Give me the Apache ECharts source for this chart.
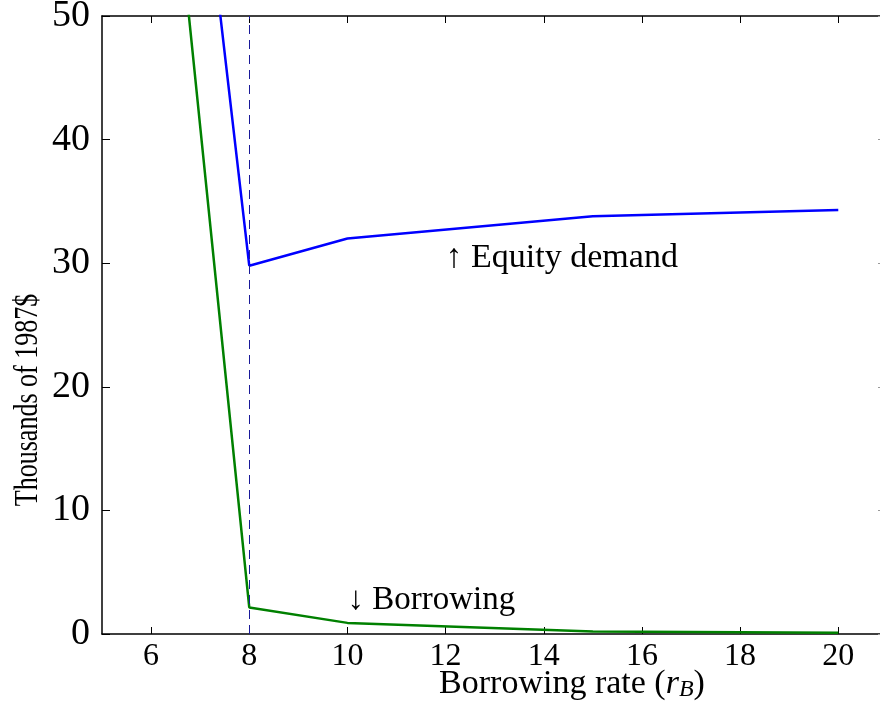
<!DOCTYPE html>
<html>
<head>
<meta charset="utf-8">
<script src="https://cdn.jsdelivr.net/npm/echarts@6/dist/echarts.min.js"></script>
<style>
  html, body { margin: 0; padding: 0; background: #fff; }
  #main { width: 880px; height: 704px; }
</style>
</head>
<body>
<div id="main"></div>
<script>
// borrowing rate (x) for both curves
var rates = [6, 8, 10, 15, 20];
// thousands of 1987$
var equityDemand = [98.5, 29.8, 32.0, 33.8, 34.3];
var borrowing = [80.0, 2.15, 0.9, 0.2, 0.1];
var xTicks = [6, 8, 10, 12, 14, 16, 18, 20];
var yTicks = [0, 10, 20, 30, 40, 50];
var kinkRate = 8;

var serif = '"Liberation Serif", "DejaVu Serif", serif';

function pairs(xs, ys) {
    return xs.map(function (x, i) { return [x, ys[i]]; });
}

var myChart = echarts.init(document.getElementById('main'));
myChart.setOption({
    animation: false,
    textStyle: { fontFamily: serif, color: '#000' },
    grid: { left: 102, right: 0, top: 16, bottom: 70, containLabel: false, outerBoundsMode: 'none' },
    xAxis: [
        {
            type: 'value', min: 5, max: 20.85,
            axisLine: { onZero: false, lineStyle: { color: '#000', width: 1.5 } },
            axisTick: { inside: true, length: 7, lineStyle: { color: '#000' }, customValues: xTicks },
            axisLabel: { fontSize: 32, fontFamily: serif, color: '#000', margin: 7, customValues: xTicks },
            splitLine: { show: false }
        },
        {
            type: 'value', min: 5, max: 20.85, position: 'top',
            axisLine: { onZero: false, lineStyle: { color: '#000', width: 1.5 } },
            axisTick: { inside: true, length: 7, lineStyle: { color: '#000' }, customValues: xTicks },
            axisLabel: { show: false },
            splitLine: { show: false }
        }
    ],
    yAxis: [
        {
            type: 'value', min: 0, max: 50, interval: 10,
            axisLine: { show: true, onZero: false, lineStyle: { color: '#000', width: 1.5 } },
            axisTick: { show: true, inside: true, length: 8, lineStyle: { color: '#000' } },
            axisLabel: { fontSize: 38, fontFamily: serif, color: '#000', margin: 12,
                         customValues: yTicks },
            splitLine: { show: false }
        },
        {
            type: 'value', min: 0, max: 50, interval: 10, position: 'right',
            axisLine: { show: false },
            axisTick: { show: true, inside: true, length: 2, lineStyle: { color: '#999' } },
            axisLabel: { show: false },
            splitLine: { show: false }
        }
    ],
    graphic: [
        {
            type: 'text', x: 28, y: 400, rotation: Math.PI / 2, scaleY: 1.3,
            style: { text: 'Thousands of 1987$', font: '26px ' + serif, fill: '#000',
                     textAlign: 'center', textVerticalAlign: 'middle' }
        },
        {
            type: 'text', x: 572, y: 684,
            style: {
                text: 'Borrowing rate ({i|r}{s|B})',
                font: '34px ' + serif, fill: '#000',
                textAlign: 'center', textVerticalAlign: 'middle',
                rich: {
                    i: { fontSize: 34, fontFamily: serif, fontStyle: 'italic' },
                    s: { fontSize: 24, fontFamily: serif, fontStyle: 'italic', padding: [12, 0, 0, 0] }
                }
            }
        }
    ],
    series: [
        {
            name: 'Equity demand', type: 'line',
            data: pairs(rates, equityDemand),
            symbol: 'none', clip: true,
            lineStyle: { color: '#0000ff', width: 2.5 },
            markLine: {
                silent: true, symbol: 'none',
                label: { show: false },
                lineStyle: { color: '#1a1a99', width: 1, type: [9, 6] },
                data: [{ xAxis: kinkRate }]
            },
            markPoint: {
                symbol: 'circle', symbolSize: 0,
                label: {
                    show: true, position: 'right', distance: 0,
                    formatter: '\u2191 Equity demand',
                    fontSize: 34, fontFamily: serif, color: '#000'
                },
                data: [{ coord: [12, 30.4] }]
            }
        },
        {
            name: 'Borrowing', type: 'line',
            data: pairs(rates, borrowing),
            symbol: 'none', clip: true,
            lineStyle: { color: '#008000', width: 2.5 },
            markPoint: {
                symbol: 'circle', symbolSize: 0,
                label: {
                    show: true, position: 'right', distance: 0,
                    formatter: '\u2193 Borrowing',
                    fontSize: 33, fontFamily: serif, color: '#000'
                },
                data: [{ coord: [10, 2.7] }]
            }
        }
    ]
});
</script>
</body>
</html>
